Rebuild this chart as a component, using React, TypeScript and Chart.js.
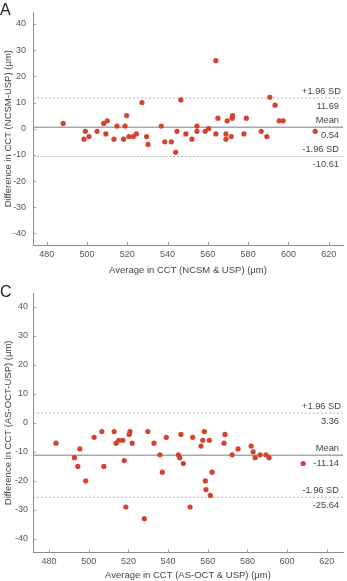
import React, { useEffect, useRef } from "react";
import { Chart, registerables } from "chart.js";

Chart.register(...registerables);

// ---------- data ----------
const xTicks = [480, 500, 520, 540, 560, 580, 600, 620];
const yTicks = [-40, -30, -20, -10, 0, 10, 20, 30, 40];
const limitLabels = ["+1.96 SD", "Mean", "-1.96 SD"];

// Panel A: NCSM vs USP
const aAverage = [
  488.2, 498.5, 499.2, 501.0, 505.0, 508.3, 510.1, 509.4, 513.4, 514.9,
  518.2, 518.9, 519.7, 520.8, 523.0, 524.5, 527.3, 529.6, 530.3, 536.9,
  538.6, 541.9, 544.0, 544.7, 546.6, 549.1, 552.1, 554.6, 554.6, 558.7,
  560.4, 564.0, 564.0, 565.0, 569.0, 569.0, 569.6, 571.6, 572.1, 572.3,
  577.9, 579.1, 586.5, 589.3, 590.8, 593.4, 595.4, 597.4, 613.3,
];
const aDifference = [
  2, -4, -1, -3, -1, 2, 3, -2, -4, 1,
  -4, 1, 5, -3, -3, -2, 10, -3, -6, 1,
  -5, -5, -9, -1, 11, -2, -4, 1, -1, -1,
  0, 26, -2, 4, -2, -4, 3, -3, 4, 5,
  -2, 4, -1, -3, 12, 9, 3, 3, -1,
];
const aLimits = [11.69, 0.54, -10.61];

// Panel C: AS-OCT vs USP
const cAverage = [
  483.5, 492.8, 494.5, 495.5, 498.5, 502.7, 506.6, 507.6, 512.8, 513.8,
  515.2, 517.2, 517.9, 518.7, 520.4, 520.8, 521.9, 528.0, 529.8, 532.9,
  535.9, 537.1, 539.1, 545.2, 545.9, 546.5, 547.7, 551.1, 552.4, 556.6,
  557.5, 558.3, 558.8, 559.1, 560.8, 561.3, 562.2, 568.2, 568.7, 572.3,
  575.3, 581.9, 582.9, 583.9, 586.4, 589.4, 590.9, 608.1,
];
const cDifference = [
  -7, -12, -15, -9, -20, -5, -3, -15, -3, -7,
  -6, -6, -13, -29, -4, -3, -7, -33, -3, -7,
  -11, -17, -5, -11, -12, -4, -14, -29, -5, -8,
  -6, -3, -20, -23, -6, -25, -17, -7, -4, -11,
  -9, -8, -10, -12, -11, -11, -12, -14,
];
const cLimits = [3.36, -11.14, -25.64];

const FONT = '"Liberation Sans", Arial, Helvetica, sans-serif';
const POINT_COLOR = "#d7412f";

const overlayPlugin = {
  id: "overlay",
  afterDatasetsDraw(chart: any, _args: any, opts: any) {
    const { ctx, chartArea } = chart;
    const x = chart.scales.x;
    const y = chart.scales.y;
    ctx.save();
    // small inward tick marks
    ctx.strokeStyle = "#a0a0a0";
    ctx.lineWidth = 1;
    for (const v of xTicks) {
      const px = Math.round(x.getPixelForValue(v)) + 0.5;
      ctx.beginPath();
      ctx.moveTo(px, chartArea.bottom);
      ctx.lineTo(px, chartArea.bottom - 3);
      ctx.stroke();
    }
    for (const v of yTicks) {
      const py = Math.round(y.getPixelForValue(v)) + 0.5;
      ctx.beginPath();
      ctx.moveTo(chartArea.left, py);
      ctx.lineTo(chartArea.left + 3, py);
      ctx.stroke();
    }
    // limit labels
    ctx.font = `9.3px ${FONT}`;
    ctx.fillStyle = "#444";
    ctx.textAlign = "right";
    ctx.textBaseline = "middle";
    const right = chartArea.right;
    (opts.values as number[]).forEach((v, i) => {
      const py = y.getPixelForValue(v);
      ctx.fillText(limitLabels[i], right - (i === 0 ? 2 : 4), py - 7);
      ctx.fillText(v.toFixed(2), right - 4, py + 8);
    });
    ctx.restore();
  },
};

type PanelProps = {
  avg: number[];
  diff: number[];
  limits: number[];
  xMin: number;
  xMax: number;
  yMin: number;
  yMax: number;
  height: number;
  padTop: number;
  xAxisHeight: number;
  xTitle: string;
  yTitle: string;
  xTitleBottom: number;
  yLabelPad: number;
};

function Panel(p: PanelProps) {
  const ref = useRef<HTMLCanvasElement | null>(null);
  useEffect(() => {
    if (!ref.current) return;
    const points = p.avg.map((v, i) => ({ x: v, y: p.diff[i] }));
    const lineSets = p.limits.map((v, i) => ({
      data: [
        { x: p.xMin, y: v },
        { x: p.xMax, y: v },
      ],
      showLine: true,
      pointRadius: 0,
      borderColor: i === 1 ? "#a8a8a8" : "#b4b4b4",
      borderWidth: i === 1 ? 1.6 : 1,
      borderDash: i === 1 ? [] : [2, 2],
      fill: false,
    }));
    const tickFont = { family: FONT, size: 9 };
    const titleFont = { family: FONT, size: 9.5 };
    const chart = new Chart(ref.current, {
      type: "scatter",
      data: {
        datasets: [
          {
            data: points,
            backgroundColor: POINT_COLOR,
            borderColor: POINT_COLOR,
            borderWidth: 0,
            pointRadius: 2.6,
          },
          ...lineSets,
        ] as any,
      },
      plugins: [overlayPlugin],
      options: {
        animation: false,
        responsive: false,
        layout: { padding: { top: p.padTop, right: 4, left: 0, bottom: 0 } },
        plugins: {
          legend: { display: false },
          tooltip: { enabled: false },
          overlay: { values: p.limits },
        } as any,
        scales: {
          x: {
            type: "linear",
            min: p.xMin,
            max: p.xMax,
            grid: { display: false, drawTicks: false },
            border: { display: true, color: "#8c8c8c", width: 1 },
            ticks: { font: tickFont, color: "#555", padding: 4 },
            afterBuildTicks: (s: any) => {
              s.ticks = xTicks.map((v) => ({ value: v }));
            },
            afterFit: (s: any) => {
              s.height = p.xAxisHeight;
            },
            title: {
              display: true,
              text: p.xTitle,
              font: titleFont,
              color: "#444",
              padding: { top: 0, bottom: p.xTitleBottom },
            },
          },
          y: {
            type: "linear",
            min: p.yMin,
            max: p.yMax,
            grid: { display: false, drawTicks: false },
            border: { display: true, color: "#8c8c8c", width: 1 },
            ticks: { font: tickFont, color: "#555", padding: p.yLabelPad },
            afterBuildTicks: (s: any) => {
              s.ticks = yTicks.map((v) => ({ value: v }));
            },
            afterFit: (s: any) => {
              s.width = 33;
            },
            title: {
              display: true,
              text: p.yTitle,
              font: titleFont,
              color: "#444",
              padding: { top: 3, bottom: 0 },
            },
          },
        },
      } as any,
    });
    return () => chart.destroy();
  }, []);
  return (
    <canvas
      ref={ref}
      width={347}
      height={p.height}
      style={{ display: "block", width: 347, height: p.height }}
    />
  );
}

const letterStyle: React.CSSProperties = {
  position: "absolute",
  left: 0,
  fontFamily: FONT,
  fontSize: 16,
  lineHeight: "16px",
  color: "#222",
};

export default function App() {
  useEffect(() => {
    document.body.style.margin = "0";
  }, []);
  return (
    <div style={{ position: "relative", width: 347, height: 581, background: "#fff" }}>
      <Panel
        avg={aAverage}
        diff={aDifference}
        limits={aLimits}
        xMin={473.2}
        xMax={627.1}
        yMin={-44.4}
        yMax={44.4}
        height={283}
        padTop={3}
        xAxisHeight={38}
        xTitle="Average in CCT (NCSM & USP) (μm)"
        yTitle="Difference in CCT (NCSM-USP) (μm)"
        xTitleBottom={7}
        yLabelPad={7}
      />
      <Panel
        avg={cAverage}
        diff={cDifference}
        limits={cLimits}
        xMin={471.9}
        xMax={628.2}
        yMin={-44.6}
        yMax={44.6}
        height={298}
        padTop={4}
        xAxisHeight={28.7}
        xTitle="Average in CCT (AS-OCT & USP) (μm)"
        yTitle="Difference in CCT (AS-OCT-USP) (μm)"
        xTitleBottom={0}
        yLabelPad={5}
      />
      <div style={{ ...letterStyle, top: 2 }}>A</div>
      <div style={{ ...letterStyle, top: 284 }}>C</div>
    </div>
  );
}
